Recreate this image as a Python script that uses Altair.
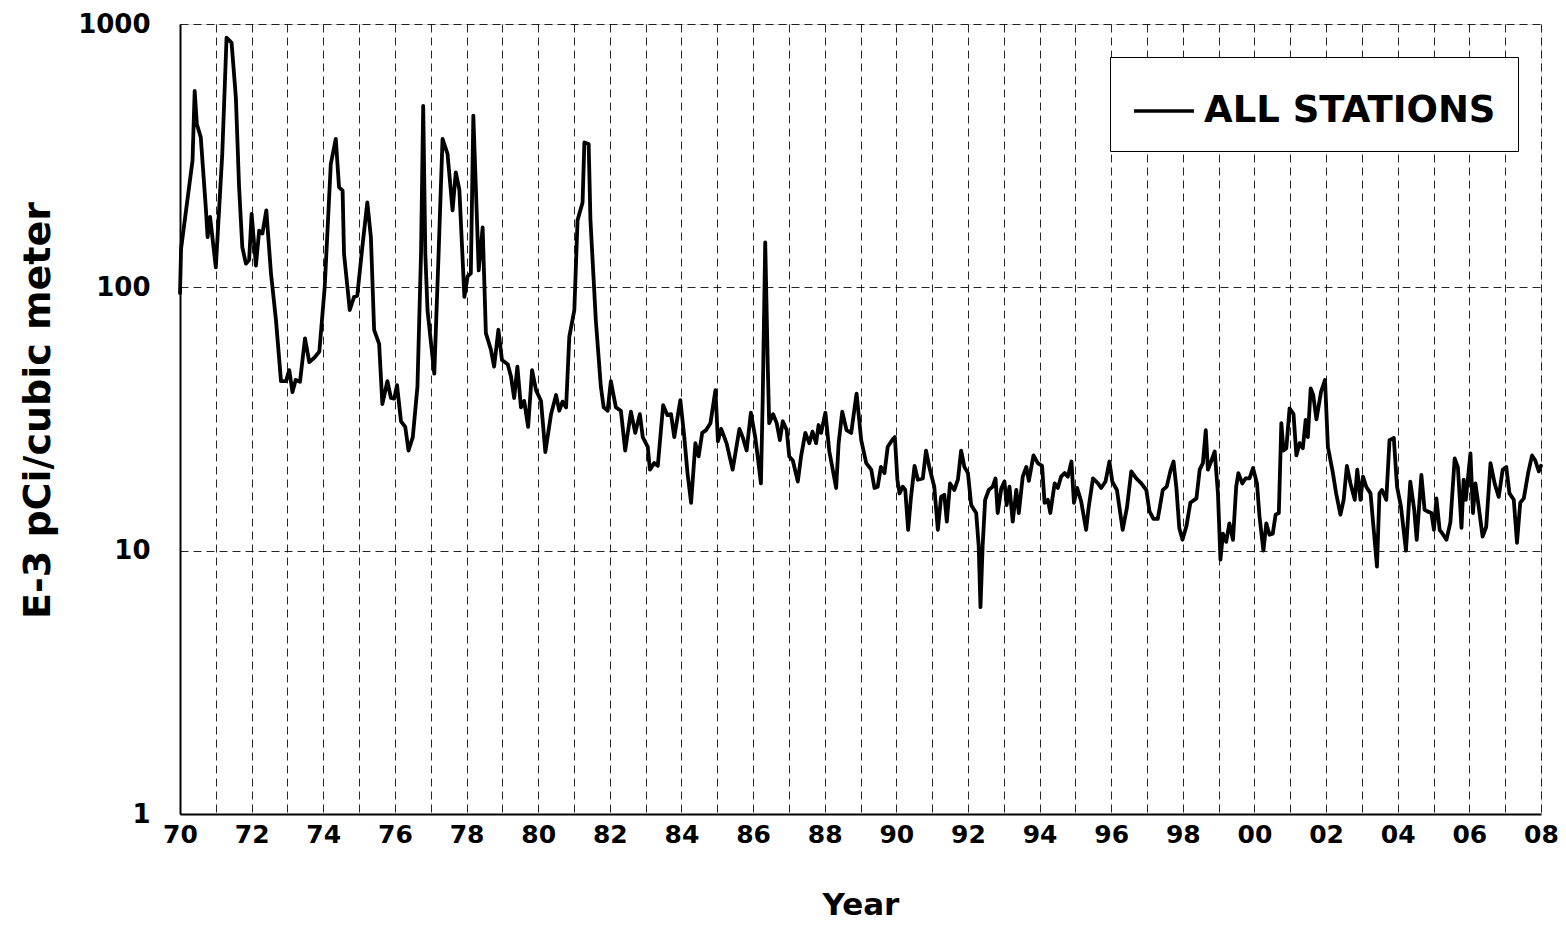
import altair as alt
import pandas as pd

# ---- data (decimal year, E-3 pCi/m3) ----
years = [
    1970.00, 1970.03, 1970.35, 1970.41, 1970.47, 1970.58, 1970.72, 1970.77, 1970.84,
    1971.00, 1971.18, 1971.30, 1971.44, 1971.56, 1971.65, 1971.74, 1971.84, 1971.93,
    1972.00, 1972.12, 1972.21, 1972.30, 1972.41, 1972.54, 1972.68, 1972.82, 1972.96,
    1973.05, 1973.14, 1973.23, 1973.35, 1973.49, 1973.61, 1973.75, 1973.89,
    1974.04, 1974.21, 1974.35, 1974.44, 1974.54, 1974.58, 1974.74, 1974.86, 1974.95,
    1975.09, 1975.23, 1975.33, 1975.42, 1975.56, 1975.65, 1975.79, 1975.89, 1975.98,
    1976.06, 1976.17, 1976.29, 1976.38, 1976.50, 1976.63, 1976.73, 1976.79, 1976.85, 1976.91,
    1977.10, 1977.22, 1977.33, 1977.47, 1977.61, 1977.70, 1977.80, 1977.94,
    1978.03, 1978.12, 1978.19, 1978.26, 1978.34, 1978.45, 1978.54, 1978.68, 1978.77, 1978.89, 1978.99,
    1979.15, 1979.24, 1979.33, 1979.42, 1979.52, 1979.61, 1979.72, 1979.83, 1979.94,
    1980.08, 1980.20, 1980.36, 1980.50, 1980.59, 1980.68, 1980.78, 1980.87,
    1981.01, 1981.10, 1981.24, 1981.29, 1981.41, 1981.46, 1981.61, 1981.75, 1981.83, 1981.94,
    1982.03, 1982.17, 1982.31, 1982.43, 1982.59, 1982.71, 1982.84, 1982.92,
    1983.06, 1983.12, 1983.24, 1983.34, 1983.49, 1983.61, 1983.71, 1983.80, 1983.97,
    1984.08, 1984.17, 1984.27, 1984.39, 1984.48, 1984.58, 1984.69, 1984.81, 1984.95,
    1985.02, 1985.11, 1985.26, 1985.43, 1985.62, 1985.71, 1985.82, 1985.94,
    1986.06, 1986.13, 1986.22, 1986.27, 1986.34, 1986.41, 1986.45, 1986.56, 1986.66, 1986.75, 1986.83, 1986.94,
    1987.01, 1987.11, 1987.25, 1987.34, 1987.46, 1987.57, 1987.66, 1987.76, 1987.83, 1987.90,
    1988.02, 1988.13, 1988.32, 1988.39, 1988.49, 1988.61, 1988.74, 1988.89,
    1989.02, 1989.16, 1989.30, 1989.39, 1989.48, 1989.57, 1989.67, 1989.76, 1989.90, 1989.96,
    1990.03, 1990.09, 1990.18, 1990.25, 1990.33, 1990.41, 1990.51, 1990.60, 1990.74, 1990.83, 1990.92,
    1991.06, 1991.16, 1991.25, 1991.34, 1991.41, 1991.50, 1991.62, 1991.72, 1991.81, 1991.90,
    1992.00, 1992.09, 1992.23, 1992.30, 1992.35, 1992.41, 1992.48, 1992.58, 1992.69, 1992.77, 1992.83, 1992.93,
    1993.02, 1993.08, 1993.16, 1993.25, 1993.35, 1993.42, 1993.53, 1993.63, 1993.70, 1993.83, 1993.95,
    1994.07, 1994.14, 1994.23, 1994.30, 1994.42, 1994.51, 1994.60, 1994.70, 1994.79, 1994.89, 1994.96,
    1995.05, 1995.16, 1995.30, 1995.37, 1995.49, 1995.63, 1995.72, 1995.84, 1995.95,
    1996.03, 1996.16, 1996.32, 1996.44, 1996.56, 1996.70, 1996.84, 1996.98,
    1997.07, 1997.18, 1997.30, 1997.44, 1997.55, 1997.65, 1997.74, 1997.82, 1997.90, 1997.99,
    1998.10, 1998.21, 1998.38, 1998.47, 1998.56, 1998.64, 1998.70, 1998.80, 1998.89, 1998.98,
    1999.05, 1999.12, 1999.21, 1999.30, 1999.40, 1999.49, 1999.55, 1999.66, 1999.75, 1999.86, 1999.96,
    2000.07, 2000.14, 2000.25, 2000.33, 2000.42, 2000.51, 2000.59, 2000.68, 2000.75, 2000.81, 2000.89, 2000.98,
    2001.09, 2001.17, 2001.26, 2001.35, 2001.43, 2001.49, 2001.57, 2001.64, 2001.73, 2001.86, 2001.97,
    2002.05, 2002.19, 2002.28, 2002.40, 2002.49, 2002.58, 2002.68, 2002.80, 2002.87, 2002.96,
    2003.03, 2003.12, 2003.24, 2003.33, 2003.42, 2003.49, 2003.56, 2003.68, 2003.77, 2003.89, 2003.98,
    2004.09, 2004.23, 2004.35, 2004.46, 2004.53, 2004.66, 2004.75, 2004.83, 2004.94,
    2005.01, 2005.08, 2005.17, 2005.25, 2005.36, 2005.47, 2005.59, 2005.68, 2005.78, 2005.84, 2005.90,
    2006.03, 2006.10, 2006.17, 2006.26, 2006.37, 2006.47, 2006.59, 2006.71, 2006.82, 2006.93,
    2007.03, 2007.12, 2007.24, 2007.33, 2007.42, 2007.52, 2007.64, 2007.75, 2007.84, 2007.94, 2008.00,
]

values = [
    95, 140, 303, 557, 417, 371, 201, 155, 185,
    119, 321, 888, 849, 525, 240, 142, 123, 127,
    190, 121, 164, 160, 196, 113, 75, 44, 44,
    48.5, 40, 44.5, 43.8, 64, 52, 54, 57,
    100, 294, 366, 240, 233, 134, 82, 92, 93,
    142, 210, 155, 69, 61, 36, 44, 38, 37.8,
    42.5, 31, 29.5, 24, 27, 42, 135, 489, 134, 82,
    47, 134, 366, 321, 196, 273, 235, 92,
    110, 113, 449, 240, 116, 169, 67, 58, 50, 69, 53,
    51, 46, 38, 50, 35, 37, 29.5, 48.5, 40.7,
    37, 23.7, 33, 39, 34, 36.8, 35, 65,
    82, 180, 210, 355, 350, 180, 75, 42, 35, 34,
    44, 35, 34, 24, 33.7, 28, 33, 27,
    24.8, 20.3, 21.5, 21, 35.7, 32.7, 33, 27, 37.3,
    27, 19.7, 15.2, 25.6, 22.8, 28, 28.7, 30.5, 40.7,
    26, 29, 25.6, 20.3, 29, 27, 24, 33.4,
    27, 22.8, 18, 38, 148, 51, 30.5, 33, 30.5, 26.3, 31, 28.7,
    22.8, 22, 18.3, 22.8, 28, 25.6, 28.3, 25.6, 30, 28,
    33.4, 23.8, 17.3, 25.6, 33.7, 28.7, 28, 39.5,
    26.3, 21.5, 20.3, 17.3, 17.5, 20.8, 19.7, 24.8, 26.5, 27,
    18.6, 16.5, 17.5, 17, 12, 16, 21, 18.6, 18.8, 24, 20.8,
    17.5, 12, 16, 16.3, 12.9, 18, 17, 18.6, 24, 20.8,
    19.7, 14.9, 13.9, 10.4, 6.1, 10.4, 15.6, 17, 17.5, 18.8, 13.9, 17.2,
    18.3, 14.9, 17.5, 12.9, 17, 13.9, 19.1, 20.8, 18.4, 23, 21.5,
    21, 15.2, 15.6, 13.9, 18, 17.3, 19.1, 19.7, 19.1, 21.8, 15.2,
    17.3, 15.4, 12, 14.6, 18.8, 18, 17.3, 18.3, 21.8,
    18.3, 17, 12, 14.6, 20, 18.8, 18, 17,
    14.1, 13.2, 13.2, 17, 17.5, 20, 21.8, 17.3, 12.2, 11,
    12.4, 15.2, 15.8, 20.3, 21.5, 28.7, 20.3, 22, 23.8, 16.5,
    9.25, 11.6, 10.8, 12.7, 11, 17.5, 19.7, 18, 18.8, 18.8, 20.6,
    18, 13.5, 10, 12.7, 11.5, 11.6, 13.7, 13.9, 30.5, 24, 24.5, 34.7,
    33, 23, 25.6, 24.5, 31.4, 27, 41.3, 39, 31.5, 40.2, 44.5,
    24.8, 19.7, 16.5, 13.7, 15.6, 21, 18, 15.6, 20.3, 15.6,
    19.1, 17.5, 16.5, 12, 8.7, 16.5, 17, 15.6, 26.3, 26.8, 17.5,
    14.7, 10, 18.3, 14.3, 11, 19.4, 14.3, 14.1, 13.9,
    12, 15.8, 12, 11.6, 11, 12.8, 22.4, 20.7, 12.2, 18.6, 15.6,
    23.4, 13.9, 18, 14.7, 11.3, 12.3, 21.5, 17.9, 16, 20.3,
    20.8, 16.5, 15.6, 10.7, 15.2, 15.8, 19.7, 23, 22, 20, 21,
]

series_name = "ALL STATIONS"
x_grid_years = list(range(1970, 2009))
y_ticks = [1, 10, 100, 1000]

df = pd.DataFrame({"year": years, "value": values, "series": series_name})

FONT = "DejaVu Sans"

x_label_expr = (
    "datum.value % 2 == 0 ? "
    "((datum.value % 100) < 10 ? '0' : '') + (datum.value % 100) : ''"
)

chart = (
    alt.Chart(df)
    .mark_line(strokeWidth=3.8, strokeJoin="round", strokeCap="round")
    .encode(
        x=alt.X(
            "year:Q",
            scale=alt.Scale(domain=[1970, 2008], nice=False, zero=False),
            axis=alt.Axis(
                values=x_grid_years,
                labelExpr=x_label_expr,
                labelOverlap=False,
                labelFlush=False,
                labelFont=FONT,
                labelFontSize=25,
                labelFontWeight="bold",
                labelColor="black",
                labelPadding=8,
                ticks=False,
                domain=True,
                domainColor="black",
                domainWidth=2,
                grid=True,
                gridColor="black",
                gridWidth=1,
                gridDash=[8, 5],
                gridOpacity=0.85,
                title="Year",
                titleFont=FONT,
                titleFontSize=31,
                titleFontWeight="bold",
                titleColor="black",
                titleY=91,
                titleBaseline="middle",
            ),
        ),
        y=alt.Y(
            "value:Q",
            scale=alt.Scale(type="log", domain=[1, 1000], nice=False),
            axis=alt.Axis(
                values=y_ticks,
                format="d",
                labelFont=FONT,
                labelFontSize=26,
                labelFontWeight="bold",
                labelColor="black",
                labelPadding=30,
                ticks=False,
                domain=True,
                domainColor="black",
                domainWidth=2,
                grid=True,
                gridColor="black",
                gridWidth=1,
                gridDash=[8, 5],
                gridOpacity=0.85,
                title="E-3 pCi/cubic meter",
                titleFont=FONT,
                titleFontSize=38,
                titleFontWeight="bold",
                titleColor="black",
                titleAngle=270,
                titleX=-142,
                titleY=386,
                titleAlign="center",
                titleBaseline="middle",
            ),
        ),
        color=alt.Color(
            "series:N",
            scale=alt.Scale(range=["black"]),
            legend=alt.Legend(
                orient="none",
                legendX=930,
                legendY=33,
                title=None,
                symbolType="stroke",
                symbolSize=3600,
                symbolStrokeWidth=3.5,
                symbolStrokeColor="black",
                labelFont=FONT,
                labelFontSize=37,
                labelFontWeight="bold",
                labelColor="black",
                labelLimit=500,
                labelOffset=8,
                padding=22,
                strokeColor="black",
                fillColor="white",
            ),
        ),
    )
    .properties(
        width=1361,
        height=790,
        autosize=alt.AutoSizeParams(type="none"),
        padding={"left": 172, "top": 16, "right": 17, "bottom": 115},
    )
    .configure_view(stroke="black", strokeWidth=2)
    .configure_legend(strokeWidth=2)
    .configure(background="white")
)

chart.save("out.html", embed_options={"renderer": "svg", "actions": False})
